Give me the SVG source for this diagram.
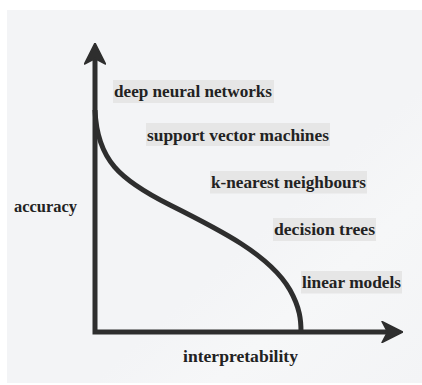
<svg xmlns="http://www.w3.org/2000/svg" width="422" height="385" viewBox="0 0 422 385">
  <defs>
    <marker id="head" viewBox="0 0 22 22" markerWidth="22" markerHeight="22" markerUnits="userSpaceOnUse" refX="14" refY="11" orient="auto-start-reverse">
      <path d="M22,11 L1,0.5 L6.5,11 L1,21.5 Z" fill="#2e2e2e" stroke="#2e2e2e" stroke-width="1.5" stroke-linejoin="round"/>
    </marker>
    <linearGradient id="sheen" x1="0" y1="0" x2="1" y2="1">
      <stop offset="0" stop-color="#f3f4f6"/>
      <stop offset="0.6" stop-color="#f3f4f6"/>
      <stop offset="0.75" stop-color="#f6f7f8"/>
      <stop offset="1" stop-color="#f3f4f6"/>
    </linearGradient>
    <style>
      .lbl { font-family: "Liberation Serif", "DejaVu Serif", serif; font-weight: bold; font-size: 17px; fill: #222222; }
      .box { fill: #e6e6e6; }
      .axis, .curve { fill: none; stroke: #2e2e2e; stroke-width: 5; }
      .axis { stroke-linejoin: miter; }
      .curve { stroke-linecap: butt; }
    </style>
  </defs>

  <!-- page and panel -->
  <rect x="0" y="0" width="422" height="385" fill="#ffffff"/>
  <rect x="7" y="10" width="415" height="373" fill="url(#sheen)"/>

  <!-- axes and trade-off curve -->
  <g id="connectors">
    <path class="axis" d="M95,51 V332 H395" marker-start="url(#head)" marker-end="url(#head)"/>
    <path class="curve" d="M95,110 C97,160 120,180 170,205 C220,230 270,255 290,290 C300,308 301,320 301,332"/>
  </g>

  <!-- axis titles -->
  <g id="y-title">
    <text class="lbl" x="14" y="212" textLength="63" lengthAdjust="spacingAndGlyphs">accuracy</text>
  </g>
  <g id="x-title">
    <text class="lbl" x="183" y="362" textLength="115" lengthAdjust="spacingAndGlyphs">interpretability</text>
  </g>

  <!-- model families -->
  <g id="deep-neural-networks">
    <rect class="box" x="113" y="80" width="161" height="23"/>
    <text class="lbl" x="114" y="97" textLength="158" lengthAdjust="spacingAndGlyphs">deep neural networks</text>
  </g>
  <g id="support-vector-machines">
    <rect class="box" x="146" y="123" width="184" height="23"/>
    <text class="lbl" x="147" y="141" textLength="182" lengthAdjust="spacingAndGlyphs">support vector machines</text>
  </g>
  <g id="k-nearest-neighbours">
    <rect class="box" x="210" y="171" width="157" height="22.5"/>
    <text class="lbl" x="211" y="187.5" textLength="155" lengthAdjust="spacingAndGlyphs">k-nearest neighbours</text>
  </g>
  <g id="decision-trees">
    <rect class="box" x="273" y="218" width="103" height="23"/>
    <text class="lbl" x="274" y="235" textLength="101" lengthAdjust="spacingAndGlyphs">decision trees</text>
  </g>
  <g id="linear-models">
    <rect class="box" x="301" y="271" width="101" height="22.5"/>
    <text class="lbl" x="302" y="288" textLength="99" lengthAdjust="spacingAndGlyphs">linear models</text>
  </g>
</svg>
